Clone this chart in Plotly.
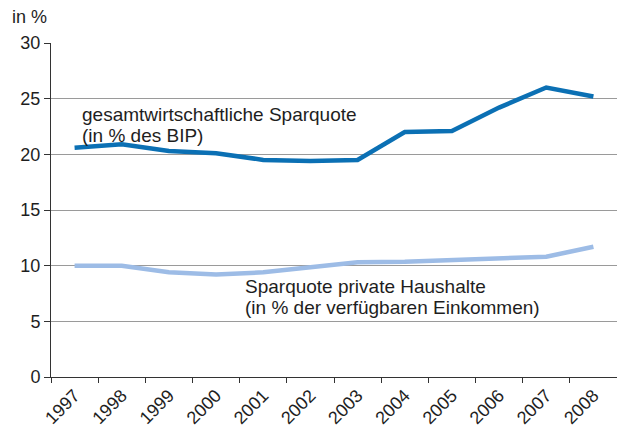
import plotly.graph_objects as go

years = ["1997", "1998", "1999", "2000", "2001", "2002", "2003", "2004", "2005", "2006", "2007", "2008"]
gesamt = [20.6, 20.9, 20.3, 20.1, 19.5, 19.4, 19.5, 22.0, 22.1, 24.2, 26.0, 25.2]
privat = [10.0, 10.0, 9.4, 9.2, 9.4, 9.9, 10.3, 10.35, 10.5, 10.55, 10.8, 11.7]
y_ticks = [0, 5, 10, 15, 20, 25, 30]

FONT = "Liberation Sans, Arial, sans-serif"
TXT = "#1e1e1e"

fig = go.Figure()
fig.add_trace(go.Scatter(x=years, y=privat, mode="lines",
                         line=dict(color="#9dbce6", width=4.5), hoverinfo="skip"))
fig.add_trace(go.Scatter(x=years, y=gesamt, mode="lines",
                         line=dict(color="#0b70b4", width=4.5), hoverinfo="skip"))

def label(text, x, y):
    return dict(text=text, xref="paper", yref="y", x=x, y=y, xanchor="left",
                yanchor="middle", align="left", showarrow=False,
                font=dict(size=19, color=TXT))

fig.update_layout(
    width=617, height=427,
    margin=dict(l=51, r=0, t=43, b=50),
    paper_bgcolor="white", plot_bgcolor="white",
    showlegend=False,
    font=dict(family=FONT, size=18, color=TXT),
    xaxis=dict(type="category", tickson="boundaries", range=[-0.5, 11.5],
               ticks="outside", ticklen=5, tickcolor="#333", tickwidth=1,
               tickangle=-45, showline=True, linecolor="#333", linewidth=1,
               showgrid=False, automargin=False, tickfont=dict(size=18, color=TXT)),
    yaxis=dict(range=[0, 30], tickvals=y_ticks, ticks="outside", ticklen=6,
               tickcolor="#333", showline=True, linecolor="#333", linewidth=1,
               showgrid=True, gridcolor="#9a9a9a", gridwidth=1, zeroline=False,
               automargin=False, tickfont=dict(size=18, color=TXT)),
    annotations=[
        dict(text="in %", xref="paper", yref="paper", x=-0.072, y=1.077,
             xanchor="left", yanchor="middle", showarrow=False,
             font=dict(size=18, color=TXT)),
        label("gesamtwirtschaftliche Sparquote", 0.052, 23.6),
        label("(in % des BIP)", 0.052, 21.7),
        label("Sparquote private Haushalte", 0.339, 8.1),
        label("(in % der verfügbaren Einkommen)", 0.339, 6.25),
    ],
)

fig.write_html("out.html", config={"displayModeBar": False},
               post_script="document.body.style.margin='0';document.body.style.overflow='hidden';")
